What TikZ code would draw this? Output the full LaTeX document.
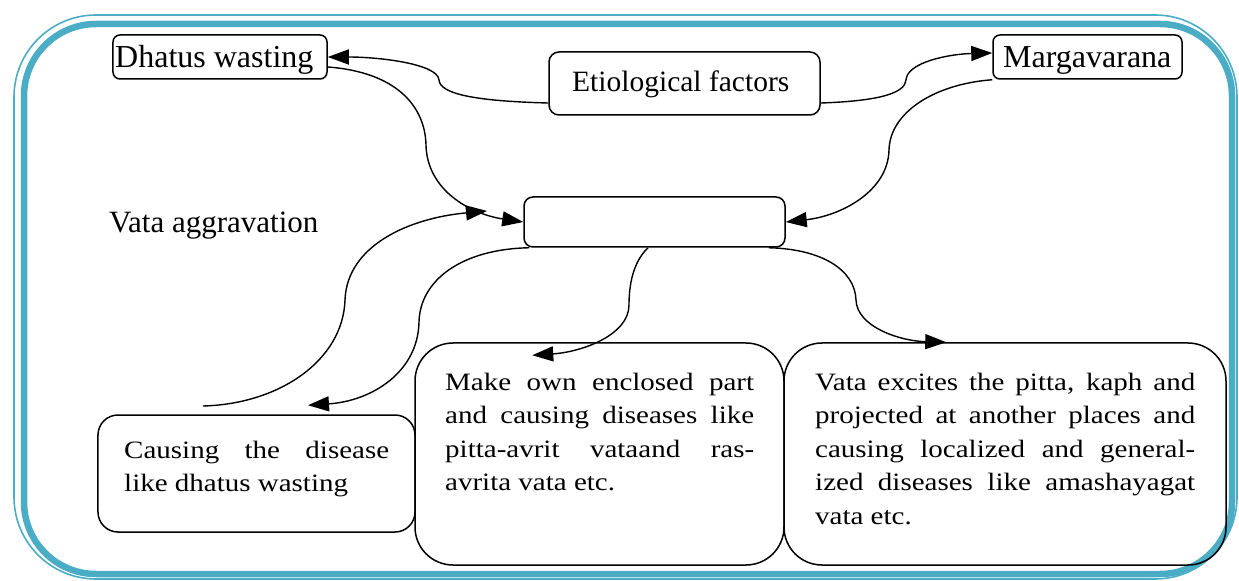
\documentclass[tikz,border=0pt]{standalone}
\usepackage{fontspec}
\setmainfont{Liberation Serif}
\newfontfamily\bodyf[FakeStretch=1.16]{Liberation Serif}
\usetikzlibrary{arrows.meta,calc}
\definecolor{frameteal}{HTML}{4BACC6}
\tikzset{
  sbox/.style={draw, line width=1.5bp, rounded corners=7bp, inner sep=0pt},
  bbox/.style={draw, line width=1.5bp, rounded corners=38bp, inner sep=0pt},
  arr/.style={line width=1.4bp, -{Triangle[length=21bp,width=15bp]}},
  lbl/.style={inner sep=0pt, anchor=base west},
  para/.style={inner sep=0pt, anchor=base west, align=justify,
    font=\bodyf\fontsize{25bp}{33.5bp}\selectfont}
}
\begin{document}
\begin{tikzpicture}[x=1bp,y=-1bp]
\useasboundingbox (0,0) rectangle (1239,581);
% frame
\draw[frameteal, line width=1.6bp, rounded corners=82bp] (14,15) rectangle (1237,579);
\draw[frameteal, line width=6.5bp, rounded corners=72bp] (24,24) rectangle (1232,574);

% boxes
\node[sbox, minimum width=214bp, minimum height=44bp] (dhatus) at (220,57) {};
\node[sbox, rounded corners=10bp, minimum width=271bp, minimum height=63bp] (etio) at (684.5,83.5) {};
\node[sbox, minimum width=189bp, minimum height=44bp] (marga) at (1087.5,57) {};
\node[sbox, rounded corners=9bp, minimum width=261bp, minimum height=50bp] (center) at (654.5,222) {};
\node[bbox, rounded corners=20bp, minimum width=317bp, minimum height=117bp] (causing) at (256.5,473.5) {};
\node[bbox, minimum width=369bp, minimum height=222bp] (make) at (599.5,454) {};
\node[bbox, minimum width=442bp, minimum height=222bp] (vata) at (1005,454) {};

% texts
\node[lbl, font=\fontsize{32bp}{36bp}\selectfont] (tdhatus) at (115,68) {Dhatus wasting};
\node[lbl, font=\fontsize{32bp}{36bp}\selectfont] (tmarga) at (1003,68) {Margavarana};
\node[lbl, font=\fontsize{29.5bp}{34bp}\selectfont] (tetio) at (572,92) {Etiological factors};
\node[lbl, font=\fontsize{31bp}{36bp}\selectfont] (tagg) at (109,233) {Vata aggravation};
\node[para, text width=265bp] (tcausing) at (124,458)
  {Causing the disease\linebreak like dhatus wasting};
\node[para, text width=309bp] (tmake) at (445,390)
  {Make own enclosed part\linebreak and causing diseases like\linebreak pitta-avrit vataand ras-\linebreak avrita vata etc.};
\node[para, text width=380bp] (tvata) at (815,390)
  {Vata excites the pitta, kaph and\linebreak projected at another places and\linebreak causing localized and general-\linebreak ized diseases like amashayagat\linebreak vata etc.};

% connectors
\draw[arr] ([yshift=-19.5bp]etio.west) .. controls (470,101) and (440,93) .. (439,80)
  .. controls (438,64) and (380,57) .. (dhatus.east);
\draw[arr] ([yshift=-19.5bp]etio.east) .. controls (880,101) and (905,93) .. (906,80)
  .. controls (907,62) and (950,54) .. ([yshift=4bp]marga.west);
\draw[arr] ([yshift=-10bp]dhatus.east) .. controls (395,72) and (425,105) .. (426,145)
  .. controls (427,190) and (470,214) .. (center.west);
\draw[arr] (marga.south west) .. controls (935,84) and (890,112) .. (889,150)
  .. controls (888,192) and (840,216) .. (center.east);
\coordinate (s5) at (203,406);
\coordinate (e5) at (487,211);
\draw[arr] (s5) .. controls (280,404) and (343,360) .. (345,300)
  .. controls (347,245) and (410,218) .. (e5);
\draw[arr] ([xshift=6bp]center.south west) .. controls (462,249) and (420,280) .. (419,322)
  .. controls (418,372) and (372,401) .. ($(causing.north)+(51.5,-9)$);
\draw[arr] ([xshift=-6.5bp]center.south) .. controls (633,262) and (629,285) .. (629,305)
  .. controls (629,335) and (582,352) .. ($(make.north west)+(118,13)$);
\draw[arr] ([xshift=-17bp]center.south east) .. controls (822,249) and (855,270) .. (856,300)
  .. controls (857,327) and (900,341) .. ($(vata.north west)+(163,0)$);
\end{tikzpicture}
\end{document}
